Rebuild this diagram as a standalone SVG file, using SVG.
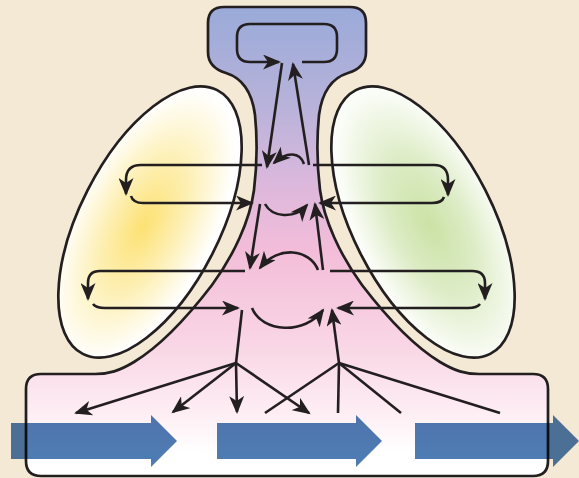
<svg xmlns="http://www.w3.org/2000/svg" width="579" height="478" viewBox="0 0 579 478">
<defs>
<style>
.st{stroke:#231f20;stroke-width:2.7;stroke-linejoin:round}
.cn{fill:none;stroke:#231f20;stroke-width:2.6;stroke-linecap:butt}
.ar{marker-end:url(#ah)}
.blue{fill:#4f7bb3;mix-blend-mode:multiply}
</style>
<marker id="ah" markerUnits="userSpaceOnUse" markerWidth="19" markerHeight="15" viewBox="0 0 19 15" refX="16" refY="7.5" orient="auto">
<path d="M0,0 L18,7.5 L0,15 L5,7.5 Z" fill="#231f20"/>
</marker>
<linearGradient id="gf" gradientUnits="userSpaceOnUse" x1="0" y1="7" x2="0" y2="476">
<stop offset="0" stop-color="#9aaad9"/>
<stop offset="0.2" stop-color="#b6b2da"/>
<stop offset="0.38" stop-color="#dcb8dc"/>
<stop offset="0.52" stop-color="#f3bdd9"/>
<stop offset="0.72" stop-color="#f9d6e5"/>
<stop offset="0.85" stop-color="#fdebf2"/>
<stop offset="0.95" stop-color="#ffffff"/>
</linearGradient>
<radialGradient id="gy" cx="0.47" cy="0.52" r="0.5">
<stop offset="0" stop-color="#fde173"/>
<stop offset="0.5" stop-color="#fdf0b6"/>
<stop offset="1" stop-color="#ffffff"/>
</radialGradient>
<radialGradient id="gg" cx="0.53" cy="0.52" r="0.5">
<stop offset="0" stop-color="#cbe2a5"/>
<stop offset="0.5" stop-color="#ddecc6"/>
<stop offset="1" stop-color="#fbfdf8"/>
</radialGradient>
</defs>
<rect id="background" x="0" y="0" width="579" height="478" fill="#f4e9d4"/>
<g id="ellipse-left">
<ellipse cx="150" cy="222" rx="70" ry="148" transform="rotate(27 150 222)" fill="url(#gy)" class="st"/>
</g>
<g id="ellipse-right">
<ellipse cx="423" cy="222" rx="70" ry="148" transform="rotate(-27 423 222)" fill="url(#gg)" class="st"/>
</g>
<g id="funnel">
<path d="M224,7 H350 Q366,7 366,23 V52 C366,64 358,70 348,73 C332,78 322,92 319,115 C317,135 317,165 320,190 C324,220 340,255 362,285 C385,315 412,345 440,362 C455,371 465,374 479,374 H533 Q548,374 548,389 V461 Q548,476 533,476 H41 Q26,476 26,461 V389 Q26,374 41,374 H95 C109,374 119,371 134,362 C162,345 189,315 212,285 C234,255 250,220 254,190 C257,165 257,135 255,115 C252,92 242,78 226,73 C216,70 208,64 208,52 V23 Q208,7 224,7 Z" fill="url(#gf)"/>
</g>
<g id="connectors">
<path class="cn ar" d="M302,62 H324 Q337,62 337,49 V37 Q337,24 324,24 H250 Q237,24 237,37 V49 Q237,62 250,62 H279"/>
<path class="cn ar" d="M282,63 L267,167"/>
<path class="cn ar" d="M309,165 L293,64"/>
<path class="cn ar" d="M304,164 C300,152 287,151 274,163"/>
<path class="cn ar" d="M262,165 H141 Q126,165 126,180 L126,194"/>
<path class="cn ar" d="M131,196 Q133,203 143,203 H252"/>
<path class="cn ar" d="M313,165 H434 Q448,165 448,180 L448,195"/>
<path class="cn ar" d="M444,197 Q442,203 432,203 H320"/>
<path class="cn ar" d="M260,204 L250,268"/>
<path class="cn ar" d="M265,204 C272,217 294,220 307,205"/>
<path class="cn ar" d="M323,270 L315,204"/>
<path class="cn ar" d="M245,271 H100 Q88,271 88,283 L88,299"/>
<path class="cn ar" d="M93,304 Q96,308 105,308 H238"/>
<path class="cn ar" d="M330,271 H472 Q485,271 485,283 L485,299"/>
<path class="cn ar" d="M480,304 Q477,308 468,308 H338"/>
<path class="cn ar" d="M318,270 C310,249 278,245 260,268"/>
<path class="cn ar" d="M252,308 C262,333 305,335 323,310"/>
<path class="cn" d="M242,310 L236,363"/>
<path class="cn ar" d="M339,363 L332,310"/>
<path class="cn ar" d="M236,363 L76,413"/>
<path class="cn ar" d="M236,363 L173,412"/>
<path class="cn ar" d="M236,363 L237,412"/>
<path class="cn ar" d="M236,363 L309,413"/>
<path class="cn" d="M339,363 L265,413"/>
<path class="cn" d="M339,363 L338,413"/>
<path class="cn" d="M339,363 L401,413"/>
<path class="cn" d="M339,363 L500,413"/>
</g>
<g id="funnel-outline">
<path class="st" fill="none" d="M224,7 H350 Q366,7 366,23 V52 C366,64 358,70 348,73 C332,78 322,92 319,115 C317,135 317,165 320,190 C324,220 340,255 362,285 C385,315 412,345 440,362 C455,371 465,374 479,374 H533 Q548,374 548,389 V461 Q548,476 533,476 H41 Q26,476 26,461 V389 Q26,374 41,374 H95 C109,374 119,371 134,362 C162,345 189,315 212,285 C234,255 250,220 254,190 C257,165 257,135 255,115 C252,92 242,78 226,73 C216,70 208,64 208,52 V23 Q208,7 224,7 Z"/>
</g>
<g id="flow-arrows">
<polygon class="blue" points="11,423 151,423 151,415 177,441 151,467 151,459 11,459"/>
<polygon class="blue" points="217,423 356,423 356,415 382,441 356,467 356,459 217,459"/>
<polygon class="blue" points="415,423 553,423 553,415 579,441 553,467 553,459 415,459"/>
</g>
</svg>
